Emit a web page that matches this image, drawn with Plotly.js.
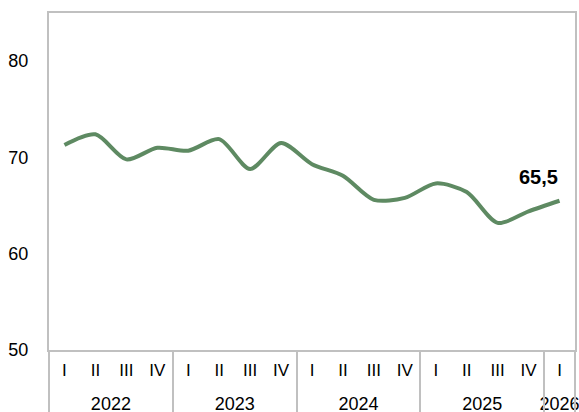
<!DOCTYPE html>
<html>
<head>
<meta charset="utf-8">
<script src="https://cdn.plot.ly/plotly-3.0.1.min.js"></script>
<style>html,body{margin:0;padding:0;background:#fff;}#chart{width:579px;height:412px;}</style>
</head>
<body>
<div id="chart"></div>
<script>
const years = ["2022","2022","2022","2022","2023","2023","2023","2023","2024","2024","2024","2024","2025","2025","2025","2025","2026"];
const quarters = ["I","II","III","IV","I","II","III","IV","I","II","III","IV","I","II","III","IV","I"];
const values = [71.3, 72.4, 69.8, 71.0, 70.7, 71.9, 68.8, 71.5, 69.3, 68.1, 65.6, 65.8, 67.3, 66.4, 63.2, 64.4, 65.5];
const lastLabel = "65,5";
const yTicks = [50, 60, 70, 80];

// derived positions
const idx = values.map((_, i) => i);
const yearNames = [], yearCenters = [], bounds = [-0.5];
let start = 0;
for (let i = 1; i <= years.length; i++) {
  if (i === years.length || years[i] !== years[start]) {
    yearNames.push(years[start]);
    yearCenters.push((start + i - 1) / 2);
    bounds.push(i - 0.5);
    start = i;
  }
}
const xr = [-0.5, values.length - 0.5];
const FONT = 'Liberation Sans, Arial, sans-serif';

const trace = {
  type: 'scatter', mode: 'lines',
  x: idx, y: values,
  line: {color: '#5e8a62', width: 4, shape: 'spline', smoothing: 0.8},
  hoverinfo: 'none'
};
const helper2 = {type: 'scatter', mode: 'none', x: [], y: [], xaxis: 'x2', yaxis: 'y', hoverinfo: 'none'};
const helper3 = {type: 'scatter', mode: 'none', x: [], y: [], xaxis: 'x3', yaxis: 'y', hoverinfo: 'none'};
const layout = {
  width: 579, height: 412,
  margin: {l: 49, r: 4, t: 13, b: 62},
  paper_bgcolor: '#fff', plot_bgcolor: '#fff',
  showlegend: false,
  font: {family: FONT, color: '#000'},
  xaxis: {
    range: xr, tickvals: idx, ticktext: quarters,
    showline: true, linecolor: '#c0c0c0', linewidth: 2, mirror: true,
    showgrid: false, zeroline: false, ticks: '',
    ticklabelstandoff: 4, ticklabeloverflow: 'allow',
    tickfont: {size: 17, color: '#000'}
  },
  xaxis2: {
    overlaying: 'x', anchor: 'y', side: 'bottom',
    range: xr, tickvals: yearCenters, ticktext: yearNames,
    showline: false, showgrid: false, zeroline: false, ticks: '',
    ticklabelstandoff: 41, ticklabeloverflow: 'allow',
    tickfont: {size: 18, color: '#000'}
  },
  xaxis3: {
    overlaying: 'x', anchor: 'y', side: 'bottom',
    range: xr, tickvals: bounds, showticklabels: false,
    showline: false, showgrid: false, zeroline: false,
    ticks: 'outside', ticklen: 64, tickwidth: 2, tickcolor: '#c0c0c0'
  },
  yaxis: {
    range: [50, 85], tickvals: yTicks, ticktext: yTicks.map(String),
    showline: true, linecolor: '#c0c0c0', linewidth: 2, mirror: true,
    showgrid: false, zeroline: false, ticks: '',
    ticklabelstandoff: 15,
    tickfont: {size: 18, color: '#000'}
  },
  annotations: [{
    x: values.length - 1, y: values[values.length - 1], xref: 'x', yref: 'y',
    text: '<b>' + lastLabel + '</b>', showarrow: false,
    xanchor: 'center', yanchor: 'bottom', xshift: -21, yshift: 11,
    font: {size: 20, color: '#000', family: FONT}
  }]
};
Plotly.newPlot('chart', [trace, helper2, helper3], layout, {displayModeBar: false, staticPlot: true});
</script>
</body>
</html>
